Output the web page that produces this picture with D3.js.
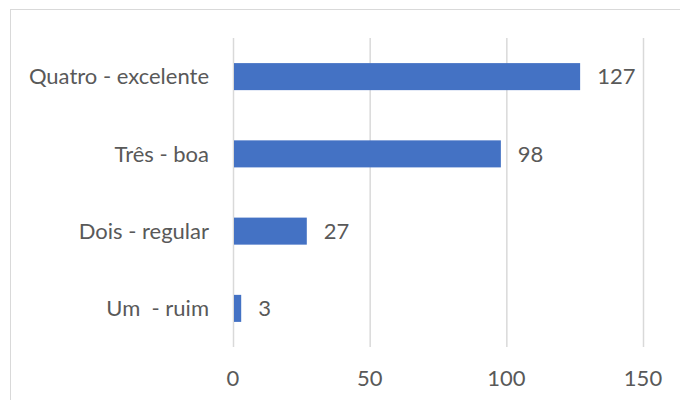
<!DOCTYPE html>
<html>
<head>
<meta charset="utf-8">
<script src="https://cdn.jsdelivr.net/npm/d3@7"></script>
<style>
  body { margin: 0; background: #fff; }
  svg text { font-family: Lato, "Open Sans", sans-serif; fill: #595959; white-space: pre; }
</style>
</head>
<body>
<figure id="chart" style="margin:0"></figure>
<script>
// chart data
const categories = ["Quatro - excelente", "Três - boa", "Dois - regular", "Um  - ruim"];
const values = [127, 98, 27, 3];
const ticks = [0, 50, 100, 150];

const width = 680;
const height = 400;
const fontSize = 22;

const svg = d3.select("figure#chart").append("svg")
  .attr("width", width)
  .attr("height", height);

// chart border (runs off the right and bottom edge)
svg.append("rect")
  .attr("x", 10.5)
  .attr("y", 9.5)
  .attr("width", width)
  .attr("height", height)
  .attr("fill", "none")
  .attr("stroke", "#d9d9d9");

const x = d3.scaleLinear()
  .domain([0, 150])
  .range([233, 643]);

const y = d3.scaleBand()
  .domain(categories)
  .range([38, 347])
  .paddingInner(0.65)
  .paddingOuter(0.325);

// vertical gridlines
svg.append("g")
  .selectAll("line")
  .data(ticks).enter()
  .append("line")
  .attr("x1", (d) => x(d) + 0.5)
  .attr("x2", (d) => x(d) + 0.5)
  .attr("y1", 38)
  .attr("y2", 347)
  .attr("stroke", "#d9d9d9")
  .attr("stroke-width", 1.5);

// tick labels
svg.append("g")
  .selectAll("text")
  .data(ticks).enter()
  .append("text")
  .attr("x", (d) => x(d))
  .attr("y", 378)
  .attr("dy", "0.35em")
  .attr("text-anchor", "middle")
  .style("font-size", fontSize + "px")
  .text((d) => d);

// bars
svg.append("g")
  .selectAll("rect")
  .data(values).enter()
  .append("rect")
  .attr("x", x(0) + 1)
  .attr("y", (d, i) => y(categories[i]))
  .attr("width", (d) => x(d) - x(0) - 1)
  .attr("height", y.bandwidth())
  .attr("fill", "#4472c4");

// category labels
svg.append("g")
  .selectAll("text")
  .data(categories).enter()
  .append("text")
  .attr("x", 209)
  .attr("y", (d) => y(d) + y.bandwidth() / 2)
  .attr("dy", "0.35em")
  .attr("text-anchor", "end")
  .style("font-size", fontSize + "px")
  .text((d) => d);

// value labels
svg.append("g")
  .selectAll("text")
  .data(values).enter()
  .append("text")
  .attr("x", (d) => x(d) + 17)
  .attr("y", (d, i) => y(categories[i]) + y.bandwidth() / 2)
  .attr("dy", "0.35em")
  .style("font-size", fontSize + "px")
  .text((d) => d);
</script>
</body>
</html>
